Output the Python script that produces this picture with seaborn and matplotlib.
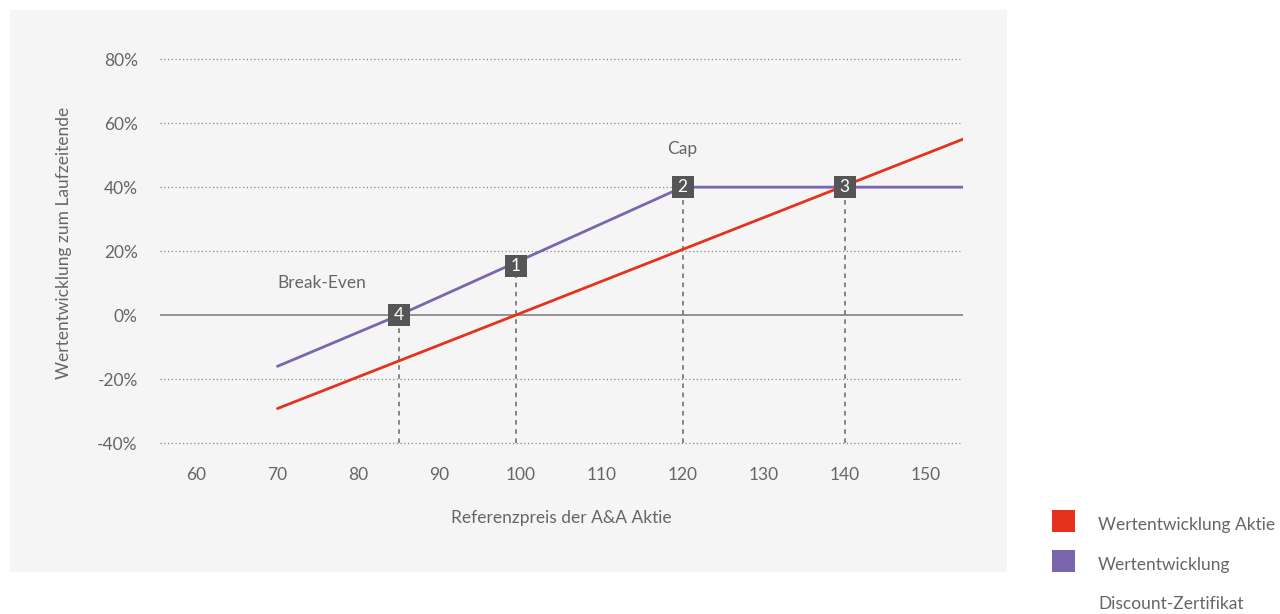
import matplotlib
matplotlib.use("Agg")
import matplotlib.pyplot as plt
from matplotlib.patches import Rectangle
import seaborn as sns
import pandas as pd

# Wertentwicklung der Aktie (Referenzpreis -> Rendite in %)
kurs_aktie = [70, 99.4, 154.6]
rendite_aktie = [-29.2, 0, 55]

# Wertentwicklung des Discount-Zertifikats
kurs_zert = [70, 85, 120, 154.6]
rendite_zert = [-16, 0, 40, 40]

# Markierte Punkte
punkt_kurs = [99.4, 120, 140, 85]
punkt_rendite = [15.5, 40, 40, 0]
punkt_labels = ["1", "2", "3", "4"]

x_ticks = [60, 70, 80, 90, 100, 110, 120, 130, 140, 150]
y_ticks = [-40, -20, 0, 20, 40, 60, 80]

serien_namen = [["Wertentwicklung Aktie"], ["Wertentwicklung", "Discount-Zertifikat"]]

sns.set_theme(style="white")
plt.rcParams["font.family"] = ["Lato", "DejaVu Sans"]

TEXT = "#666666"
PANEL = "#f5f5f5"
ROT = "#e5321f"
LILA = "#7b66ae"

df = pd.concat([
    pd.DataFrame({"Kurs": kurs_aktie, "Rendite": rendite_aktie, "Serie": "Aktie"}),
    pd.DataFrame({"Kurs": kurs_zert, "Rendite": rendite_zert, "Serie": "Zertifikat"}),
])

fig = plt.figure(figsize=(12.8, 6.14), dpi=100)
fig.patch.set_facecolor("white")
fig.patches.append(Rectangle((10 / 1280, 1 - 572 / 614), 997 / 1280, 562 / 614,
                             transform=fig.transFigure, facecolor=PANEL,
                             edgecolor="none", zorder=-5))

ax = fig.add_axes([160 / 1280, 1 - 445 / 614, 803 / 1280, 405 / 614])
ax.set_zorder(1)
ax.set_facecolor(PANEL)
ax.set_xlim(55.5, 154.6)
ax.set_ylim(-40.6, 86)

# Hilfslinien
for y in y_ticks:
    if y == 0:
        ax.axhline(y, color="#777777", lw=1.1, zorder=1)
    else:
        ax.axhline(y, color="#888888", lw=0.9, ls=(0, (1, 2)), zorder=1)

ax.vlines(punkt_kurs, -40, punkt_rendite, colors="#666666", lw=1.1,
          linestyles=(0, (3, 3)), zorder=2)

sns.lineplot(data=df, x="Kurs", y="Rendite", hue="Serie",
             palette={"Aktie": ROT, "Zertifikat": LILA},
             linewidth=2.0, legend=False, ax=ax, zorder=3, sort=False)

ax.scatter(punkt_kurs, punkt_rendite, marker="s", s=250, color="#555555",
           zorder=5, linewidths=0)
for xk, yr, lab in zip(punkt_kurs, punkt_rendite, punkt_labels):
    ax.text(xk, yr, lab, color="white", fontsize=12.5, ha="center", va="center",
            zorder=6)

ax.text(80.9, 10, "Break-Even", color=TEXT, fontsize=12.5, ha="right", va="center")
ax.text(120, 52, "Cap", color=TEXT, fontsize=12.5, ha="center", va="center")

ax.set_xticks(x_ticks)
ax.set_xticklabels([str(v) for v in x_ticks])
ax.set_yticks(y_ticks)
ax.set_yticklabels([f"{v}%" for v in y_ticks])
ax.tick_params(axis="both", length=0, labelsize=12.5, labelcolor=TEXT)
ax.tick_params(axis="x", pad=16)
ax.tick_params(axis="y", pad=16)

ax.set_xlabel("Referenzpreis der A&A Aktie", color=TEXT, fontsize=12.5, labelpad=19)
ax.set_ylabel("Wertentwicklung zum Laufzeitende", color=TEXT, fontsize=12.5, labelpad=18)

for s in ax.spines.values():
    s.set_visible(False)

# Legende rechts unten
for i, (farbe, zeilen) in enumerate(zip([ROT, LILA], serien_namen)):
    top = 510 + i * 40
    fig.patches.append(Rectangle((1052 / 1280, 1 - (top + 22) / 614), 23 / 1280, 22 / 614,
                                 transform=fig.transFigure, facecolor=farbe,
                                 edgecolor="none"))
    for j, zeile in enumerate(zeilen):
        fig.text(1098 / 1280, 1 - (top + 15 + j * 39) / 614, zeile, color=TEXT,
                 fontsize=12.5, ha="left", va="center")

fig.savefig("out.png", dpi=100)
